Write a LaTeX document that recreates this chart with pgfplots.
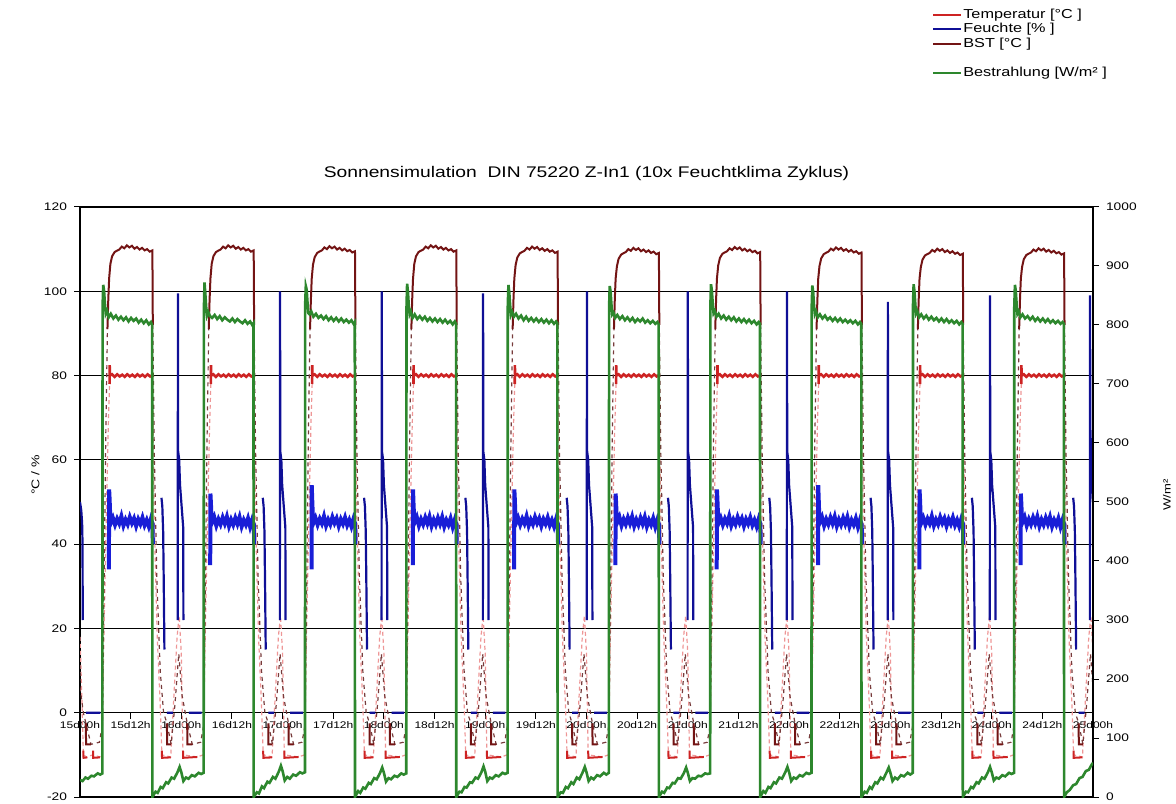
\documentclass[border=0pt]{standalone}
\usepackage{fontspec}
\setmainfont{Liberation Sans}[FakeStretch=1.25]
\usepackage{pgfplots}
\pgfplotsset{compat=1.18}
\definecolor{tempred}{RGB}{205,35,35}
\definecolor{tempfaint}{RGB}{238,150,150}
\definecolor{feuchteblue}{RGB}{25,30,215}
\definecolor{feuchtenavy}{RGB}{15,15,150}
\definecolor{bstbrown}{RGB}{115,20,20}
\definecolor{bstfaint}{RGB}{120,60,60}
\definecolor{bestrgreen}{RGB}{45,135,45}
\tikzset{
  tempst/.style={draw=tempred, line width=1pt},
  tempplat/.style={draw=tempred, line width=1.3pt},
  tempfaintst/.style={draw=tempfaint, line width=0.6pt, dash pattern=on 2pt off 1.5pt},
  feuchtst/.style={draw=feuchtenavy, line width=1.1pt},
  feuchtplat/.style={draw=feuchteblue, line width=2pt},
  bstst/.style={draw=bstbrown, line width=1pt},
  bstfaintst/.style={draw=bstfaint, line width=0.6pt, dash pattern=on 2pt off 2pt},
  bestrst/.style={draw=bestrgreen, line width=1.3pt},
}
\begin{document}
\begin{tikzpicture}
\begin{axis}[
  scale only axis, width=506.5pt, height=295pt,
  xmin=0, xmax=240, ymin=-20, ymax=120,
  axis x line*=middle, axis y line*=left,
  hide obscured x ticks=false, hide obscured y ticks=false,
  axis line style={-, line width=0.6pt, black},
  xtick={0,12,...,240},
  xticklabels={15d00h,15d12h,16d00h,16d12h,17d00h,17d12h,18d00h,18d12h,19d00h,19d12h,20d00h,20d12h,21d00h,21d12h,22d00h,22d12h,23d00h,23d12h,24d00h,24d12h,25d00h},
  ytick={-20,0,20,40,60,80,100,120},
  ymajorgrids, major grid style={black, line width=0.6pt},
  tick align=outside, major tick length=3pt, tick style={black, line width=0.5pt},
  /pgf/number format/assume math mode=true,
  yticklabel style={font=\fontsize{5.5}{6}\selectfont},
  xticklabel style={font=\fontsize{4.8}{5}\selectfont, inner sep=1pt},
  ylabel={°C / \%},
  ylabel style={at={(axis description cs:-0.044,0.546)}, anchor=center, font=\fontsize{5.6}{6}\selectfont},
  title={Sonnensimulation\ \ DIN 75220 Z-In1 (10x Feuchtklima Zyklus)},
  title style={at={(axis description cs:0.5,1)}, anchor=base, yshift=8.5pt, font=\fontsize{7.7}{8}\selectfont},
  unbounded coords=jump,
]
\draw[black, line width=0.6pt] (rel axis cs:0,0) -- (rel axis cs:1,0);
\draw[black, line width=0.6pt] (rel axis cs:0,1) -- (rel axis cs:1,1);
% Temperatur faint transitions
\addplot[tempfaintst] coordinates {
(0,18)(0.4,5)(0.8,-10)(1.7,-10.6)(2.4,-10.2)(3.1,-10)(4.7,-10.5)(5.2,-10)(5.6,15)(6.2,45)(6.7,68)(7,78)(7.05,nan)
(17.2,80)(17.6,45)(18.3,18)(19,2)(19.4,-10)(21.5,-10.5)(22.3,5)(23,18)(23.5,23)(24,14)(24.4,-10)(27.8,-10.5)(29.2,-10)(29.6,15)(30.2,45)(30.7,68)(31,78)(31.05,nan)
(41.2,80)(41.6,45)(42.3,18)(43,2)(43.4,-10)(45.5,-10.5)(46.3,5)(47,18)(47.5,23)(48,14)(48.4,-10)(51.8,-10.5)(53.2,-10)(53.6,15)(54.2,45)(54.7,68)(55,78)(55.05,nan)
(65.2,80)(65.6,45)(66.3,18)(67,2)(67.4,-10)(69.5,-10.5)(70.3,5)(71,18)(71.5,23)(72,14)(72.4,-10)(75.8,-10.5)(77.2,-10)(77.6,15)(78.2,45)(78.7,68)(79,78)(79.05,nan)
(89.2,80)(89.6,45)(90.3,18)(91,2)(91.4,-10)(93.5,-10.5)(94.3,5)(95,18)(95.5,23)(96,14)(96.4,-10)(99.8,-10.5)(101.2,-10)(101.6,15)(102.2,45)(102.7,68)(103,78)(103.05,nan)
(113.2,80)(113.6,45)(114.3,18)(115,2)(115.4,-10)(117.5,-10.5)(118.3,5)(119,18)(119.5,23)(120,14)(120.4,-10)(123.8,-10.5)(125.2,-10)(125.6,15)(126.2,45)(126.7,68)(127,78)(127.05,nan)
(137.2,80)(137.6,45)(138.3,18)(139,2)(139.4,-10)(141.5,-10.5)(142.3,5)(143,18)(143.5,23)(144,14)(144.4,-10)(147.8,-10.5)(149.2,-10)(149.6,15)(150.2,45)(150.7,68)(151,78)(151.05,nan)
(161.2,80)(161.6,45)(162.3,18)(163,2)(163.4,-10)(165.5,-10.5)(166.3,5)(167,18)(167.5,23)(168,14)(168.4,-10)(171.8,-10.5)(173.2,-10)(173.6,15)(174.2,45)(174.7,68)(175,78)(175.05,nan)
(185.2,80)(185.6,45)(186.3,18)(187,2)(187.4,-10)(189.5,-10.5)(190.3,5)(191,18)(191.5,23)(192,14)(192.4,-10)(195.8,-10.5)(197.2,-10)(197.6,15)(198.2,45)(198.7,68)(199,78)(199.05,nan)
(209.2,80)(209.6,45)(210.3,18)(211,2)(211.4,-10)(213.5,-10.5)(214.3,5)(215,18)(215.5,23)(216,14)(216.4,-10)(219.8,-10.5)(221.2,-10)(221.6,15)(222.2,45)(222.7,68)(223,78)(223.05,nan)
(233.2,80)(233.6,45)(234.3,18)(235,2)(235.4,-10)(237.5,-10.5)(238.3,5)(239,18)(239.5,23)(240,14)
};
% BST faint transitions
\addplot[bstfaintst] coordinates {
(0,6)(0.8,0)(1.4,-2.5)(2.6,-7.5)(4.6,-7)(5.3,-3)(5.7,30)(6.1,65)(6.5,91)(6.55,nan)
(17.25,92)(17.6,62)(18.2,32)(19,10)(19.8,0)(20.6,-2.5)(21.6,-7.5)(22.5,2)(23.4,14)(24.2,4)(25.4,-2.5)(26.6,-7.5)(28.6,-7)(29.3,-3)(29.7,30)(30.1,65)(30.5,91)(30.55,nan)
(41.25,92)(41.6,62)(42.2,32)(43,10)(43.8,0)(44.6,-2.5)(45.6,-7.5)(46.5,2)(47.4,14)(48.2,4)(49.4,-2.5)(50.6,-7.5)(52.6,-7)(53.3,-3)(53.7,30)(54.1,65)(54.5,91)(54.55,nan)
(65.25,92)(65.6,62)(66.2,32)(67,10)(67.8,0)(68.6,-2.5)(69.6,-7.5)(70.5,2)(71.4,14)(72.2,4)(73.4,-2.5)(74.6,-7.5)(76.6,-7)(77.3,-3)(77.7,30)(78.1,65)(78.5,91)(78.55,nan)
(89.25,92)(89.6,62)(90.2,32)(91,10)(91.8,0)(92.6,-2.5)(93.6,-7.5)(94.5,2)(95.4,14)(96.2,4)(97.4,-2.5)(98.6,-7.5)(100.6,-7)(101.3,-3)(101.7,30)(102.1,65)(102.5,91)(102.55,nan)
(113.25,92)(113.6,62)(114.2,32)(115,10)(115.8,0)(116.6,-2.5)(117.6,-7.5)(118.5,2)(119.4,14)(120.2,4)(121.4,-2.5)(122.6,-7.5)(124.6,-7)(125.3,-3)(125.7,30)(126.1,65)(126.5,91)(126.55,nan)
(137.25,92)(137.6,62)(138.2,32)(139,10)(139.8,0)(140.6,-2.5)(141.6,-7.5)(142.5,2)(143.4,14)(144.2,4)(145.4,-2.5)(146.6,-7.5)(148.6,-7)(149.3,-3)(149.7,30)(150.1,65)(150.5,91)(150.55,nan)
(161.25,92)(161.6,62)(162.2,32)(163,10)(163.8,0)(164.6,-2.5)(165.6,-7.5)(166.5,2)(167.4,14)(168.2,4)(169.4,-2.5)(170.6,-7.5)(172.6,-7)(173.3,-3)(173.7,30)(174.1,65)(174.5,91)(174.55,nan)
(185.25,92)(185.6,62)(186.2,32)(187,10)(187.8,0)(188.6,-2.5)(189.6,-7.5)(190.5,2)(191.4,14)(192.2,4)(193.4,-2.5)(194.6,-7.5)(196.6,-7)(197.3,-3)(197.7,30)(198.1,65)(198.5,91)(198.55,nan)
(209.25,92)(209.6,62)(210.2,32)(211,10)(211.8,0)(212.6,-2.5)(213.6,-7.5)(214.5,2)(215.4,14)(216.2,4)(217.4,-2.5)(218.6,-7.5)(220.6,-7)(221.3,-3)(221.7,30)(222.1,65)(222.5,91)(222.55,nan)
(233.25,92)(233.6,62)(234.2,32)(235,10)(235.8,0)(236.6,-2.5)(237.6,-7.5)(238.5,2)(239.4,14)(240,6)
};
% Temperatur night segments
\addplot[tempst] coordinates {
(0.8,-9)(0.83,-10.7)(1.7,-10.6)(1.75,nan)(3.1,-9)(3.13,-10.7)(4.7,-10.6)(4.75,nan)
(19.4,-9)(19.43,-10.7)(21.5,-10.6)(21.55,nan)(24.4,-9)(24.43,-10.7)(27.8,-10.5)(27.85,nan)
(43.4,-9)(43.43,-10.7)(45.5,-10.6)(45.55,nan)(48.4,-9)(48.43,-10.7)(51.8,-10.5)(51.85,nan)
(67.4,-9)(67.43,-10.7)(69.5,-10.6)(69.55,nan)(72.4,-9)(72.43,-10.7)(75.8,-10.5)(75.85,nan)
(91.4,-9)(91.43,-10.7)(93.5,-10.6)(93.55,nan)(96.4,-9)(96.43,-10.7)(99.8,-10.5)(99.85,nan)
(115.4,-9)(115.43,-10.7)(117.5,-10.6)(117.55,nan)(120.4,-9)(120.43,-10.7)(123.8,-10.5)(123.85,nan)
(139.4,-9)(139.43,-10.7)(141.5,-10.6)(141.55,nan)(144.4,-9)(144.43,-10.7)(147.8,-10.5)(147.85,nan)
(163.4,-9)(163.43,-10.7)(165.5,-10.6)(165.55,nan)(168.4,-9)(168.43,-10.7)(171.8,-10.5)(171.85,nan)
(187.4,-9)(187.43,-10.7)(189.5,-10.6)(189.55,nan)(192.4,-9)(192.43,-10.7)(195.8,-10.5)(195.85,nan)
(211.4,-9)(211.43,-10.7)(213.5,-10.6)(213.55,nan)(216.4,-9)(216.43,-10.7)(219.8,-10.5)(219.85,nan)
(235.4,-9)(235.43,-10.7)(237.5,-10.6)
};
% Temperatur plateaus
\addplot[tempplat] coordinates {
(7,78)(7.03,82.5)(7.08,80)(7.6,80.3)(8.2,79.7)(8.8,80.3)(9.4,79.8)(10,80.2)(10.6,79.7)(11.2,80.3)(11.8,79.8)(12.4,80.2)(13,79.7)(13.6,80.3)(14.2,79.8)(14.8,80.2)(15.4,79.7)(16,80.3)(16.6,79.8)(17.2,80.1)(17.25,nan)
(31,78)(31.03,82.5)(31.08,80)(31.6,80.3)(32.2,79.7)(32.8,80.3)(33.4,79.8)(34,80.2)(34.6,79.7)(35.2,80.3)(35.8,79.8)(36.4,80.2)(37,79.7)(37.6,80.3)(38.2,79.8)(38.8,80.2)(39.4,79.7)(40,80.3)(40.6,79.8)(41.2,80.1)(41.25,nan)
(55,78)(55.03,82.5)(55.08,80)(55.6,80.3)(56.2,79.7)(56.8,80.3)(57.4,79.8)(58,80.2)(58.6,79.7)(59.2,80.3)(59.8,79.8)(60.4,80.2)(61,79.7)(61.6,80.3)(62.2,79.8)(62.8,80.2)(63.4,79.7)(64,80.3)(64.6,79.8)(65.2,80.1)(65.25,nan)
(79,78)(79.03,82.5)(79.08,80)(79.6,80.3)(80.2,79.7)(80.8,80.3)(81.4,79.8)(82,80.2)(82.6,79.7)(83.2,80.3)(83.8,79.8)(84.4,80.2)(85,79.7)(85.6,80.3)(86.2,79.8)(86.8,80.2)(87.4,79.7)(88,80.3)(88.6,79.8)(89.2,80.1)(89.25,nan)
(103,78)(103.03,82.5)(103.08,80)(103.6,80.3)(104.2,79.7)(104.8,80.3)(105.4,79.8)(106,80.2)(106.6,79.7)(107.2,80.3)(107.8,79.8)(108.4,80.2)(109,79.7)(109.6,80.3)(110.2,79.8)(110.8,80.2)(111.4,79.7)(112,80.3)(112.6,79.8)(113.2,80.1)(113.25,nan)
(127,78)(127.03,82.5)(127.08,80)(127.6,80.3)(128.2,79.7)(128.8,80.3)(129.4,79.8)(130,80.2)(130.6,79.7)(131.2,80.3)(131.8,79.8)(132.4,80.2)(133,79.7)(133.6,80.3)(134.2,79.8)(134.8,80.2)(135.4,79.7)(136,80.3)(136.6,79.8)(137.2,80.1)(137.25,nan)
(151,78)(151.03,82.5)(151.08,80)(151.6,80.3)(152.2,79.7)(152.8,80.3)(153.4,79.8)(154,80.2)(154.6,79.7)(155.2,80.3)(155.8,79.8)(156.4,80.2)(157,79.7)(157.6,80.3)(158.2,79.8)(158.8,80.2)(159.4,79.7)(160,80.3)(160.6,79.8)(161.2,80.1)(161.25,nan)
(175,78)(175.03,82.5)(175.08,80)(175.6,80.3)(176.2,79.7)(176.8,80.3)(177.4,79.8)(178,80.2)(178.6,79.7)(179.2,80.3)(179.8,79.8)(180.4,80.2)(181,79.7)(181.6,80.3)(182.2,79.8)(182.8,80.2)(183.4,79.7)(184,80.3)(184.6,79.8)(185.2,80.1)(185.25,nan)
(199,78)(199.03,82.5)(199.08,80)(199.6,80.3)(200.2,79.7)(200.8,80.3)(201.4,79.8)(202,80.2)(202.6,79.7)(203.2,80.3)(203.8,79.8)(204.4,80.2)(205,79.7)(205.6,80.3)(206.2,79.8)(206.8,80.2)(207.4,79.7)(208,80.3)(208.6,79.8)(209.2,80.1)(209.25,nan)
(223,78)(223.03,82.5)(223.08,80)(223.6,80.3)(224.2,79.7)(224.8,80.3)(225.4,79.8)(226,80.2)(226.6,79.7)(227.2,80.3)(227.8,79.8)(228.4,80.2)(229,79.7)(229.6,80.3)(230.2,79.8)(230.8,80.2)(231.4,79.7)(232,80.3)(232.6,79.8)(233.2,80.1)
};
% Feuchte plateaus
\addplot[feuchtplat] coordinates {
(6.85,34)(6.9,53)(7,51)(7.15,47)(7.3,45)(7.8,46.2)(8.3,44.6)(8.8,46)(9.3,44.9)(9.8,46.6)(10.3,44.4)(10.8,45.8)(11.3,44.7)(11.8,46.4)(12.3,45)(12.8,46.1)(13.3,44.3)(13.8,45.9)(14.3,44.8)(14.8,46.3)(15.3,44.5)(15.8,45.7)(16.3,44.2)(16.8,46)(17.2,44.8)(17.25,40)(17.3,nan)
(30.85,35)(30.9,52)(31,50)(31.15,46.5)(31.3,45.2)(31.8,46.4)(32.3,44.4)(32.8,45.9)(33.3,44.7)(33.8,46.3)(34.3,44.9)(34.8,46.5)(35.3,44.3)(35.8,45.8)(36.3,44.6)(36.8,46.2)(37.3,44.8)(37.8,46.4)(38.3,44.2)(38.8,45.7)(39.3,44.6)(39.8,46.1)(40.3,44.1)(40.8,45.8)(41.2,44.6)(41.25,40)(41.3,nan)
(54.85,34)(54.9,54)(55,51)(55.15,47)(55.3,45)(55.8,46.2)(56.3,44.6)(56.8,46)(57.3,44.9)(57.8,46.6)(58.3,44.4)(58.8,45.8)(59.3,44.7)(59.8,46.4)(60.3,45)(60.8,46.1)(61.3,44.3)(61.8,45.9)(62.3,44.8)(62.8,46.3)(63.3,44.5)(63.8,45.7)(64.3,44.2)(64.8,46)(65.2,44.8)(65.25,40)(65.3,nan)
(78.85,35)(78.9,53)(79,50)(79.15,46.5)(79.3,45.2)(79.8,46.4)(80.3,44.4)(80.8,45.9)(81.3,44.7)(81.8,46.3)(82.3,44.9)(82.8,46.5)(83.3,44.3)(83.8,45.8)(84.3,44.6)(84.8,46.2)(85.3,44.8)(85.8,46.4)(86.3,44.2)(86.8,45.7)(87.3,44.6)(87.8,46.1)(88.3,44.1)(88.8,45.8)(89.2,44.6)(89.25,40)(89.3,nan)
(102.85,34)(102.9,53)(103,51)(103.15,47)(103.3,45)(103.8,46.2)(104.3,44.6)(104.8,46)(105.3,44.9)(105.8,46.6)(106.3,44.4)(106.8,45.8)(107.3,44.7)(107.8,46.4)(108.3,45)(108.8,46.1)(109.3,44.3)(109.8,45.9)(110.3,44.8)(110.8,46.3)(111.3,44.5)(111.8,45.7)(112.3,44.2)(112.8,46)(113.2,44.8)(113.25,40)(113.3,nan)
(126.85,35)(126.9,52)(127,50)(127.15,46.5)(127.3,45.2)(127.8,46.4)(128.3,44.4)(128.8,45.9)(129.3,44.7)(129.8,46.3)(130.3,44.9)(130.8,46.5)(131.3,44.3)(131.8,45.8)(132.3,44.6)(132.8,46.2)(133.3,44.8)(133.8,46.4)(134.3,44.2)(134.8,45.7)(135.3,44.6)(135.8,46.1)(136.3,44.1)(136.8,45.8)(137.2,44.6)(137.25,40)(137.3,nan)
(150.85,34)(150.9,53)(151,51)(151.15,47)(151.3,45)(151.8,46.2)(152.3,44.6)(152.8,46)(153.3,44.9)(153.8,46.6)(154.3,44.4)(154.8,45.8)(155.3,44.7)(155.8,46.4)(156.3,45)(156.8,46.1)(157.3,44.3)(157.8,45.9)(158.3,44.8)(158.8,46.3)(159.3,44.5)(159.8,45.7)(160.3,44.2)(160.8,46)(161.2,44.8)(161.25,40)(161.3,nan)
(174.85,35)(174.9,54)(175,51)(175.15,46.5)(175.3,45.2)(175.8,46.4)(176.3,44.4)(176.8,45.9)(177.3,44.7)(177.8,46.3)(178.3,44.9)(178.8,46.5)(179.3,44.3)(179.8,45.8)(180.3,44.6)(180.8,46.2)(181.3,44.8)(181.8,46.4)(182.3,44.2)(182.8,45.7)(183.3,44.6)(183.8,46.1)(184.3,44.1)(184.8,45.8)(185.2,44.6)(185.25,40)(185.3,nan)
(198.85,34)(198.9,53)(199,51)(199.15,47)(199.3,45)(199.8,46.2)(200.3,44.6)(200.8,46)(201.3,44.9)(201.8,46.6)(202.3,44.4)(202.8,45.8)(203.3,44.7)(203.8,46.4)(204.3,45)(204.8,46.1)(205.3,44.3)(205.8,45.9)(206.3,44.8)(206.8,46.3)(207.3,44.5)(207.8,45.7)(208.3,44.2)(208.8,46)(209.2,44.8)(209.25,40)(209.3,nan)
(222.85,35)(222.9,52)(223,50)(223.15,46.5)(223.3,45.2)(223.8,46.4)(224.3,44.4)(224.8,45.9)(225.3,44.7)(225.8,46.3)(226.3,44.9)(226.8,46.5)(227.3,44.3)(227.8,45.8)(228.3,44.6)(228.8,46.2)(229.3,44.8)(229.8,46.4)(230.3,44.2)(230.8,45.7)(231.3,44.6)(231.8,46.1)(232.3,44.1)(232.8,45.8)(233.2,44.6)(233.25,40)
};
% Feuchte night
\addplot[feuchtst] coordinates {
(0,50)(0.3,48)(0.5,45)(0.6,40)(0.65,22)(0.7,nan)(1.4,0)(4.8,0)(4.9,nan)
(19.3,51)(19.5,49)(19.7,43)(19.85,30)(20,15)(20.1,nan)(20.6,0)(22,0)(22.1,nan)(23.15,22)(23.2,99.5)(23.25,62)(23.5,60)(23.7,54)(24,50)(24.3,46)(24.45,44)(24.5,22)(24.55,nan)(25.8,0)(28.8,0)(28.9,nan)
(43.3,51)(43.5,49)(43.7,43)(43.85,30)(44,15)(44.1,nan)(44.6,0)(46,0)(46.1,nan)(47.35,22)(47.4,100)(47.45,62)(47.7,60)(47.9,54)(48.2,50)(48.5,46)(48.65,44)(48.7,22)(48.75,nan)(49.8,0)(52.8,0)(52.9,nan)
(67.3,51)(67.5,49)(67.7,43)(67.85,30)(68,15)(68.1,nan)(68.6,0)(70,0)(70.1,nan)(71.45,22)(71.5,100)(71.55,62)(71.8,60)(72,54)(72.3,50)(72.6,46)(72.75,44)(72.8,22)(72.85,nan)(73.8,0)(76.8,0)(76.9,nan)
(91.3,51)(91.5,49)(91.7,43)(91.85,30)(92,15)(92.1,nan)(92.6,0)(94,0)(94.1,nan)(95.45,22)(95.5,99.5)(95.55,62)(95.8,60)(96,54)(96.3,50)(96.6,46)(96.75,44)(96.8,22)(96.85,nan)(97.8,0)(100.8,0)(100.9,nan)
(115.3,51)(115.5,49)(115.7,43)(115.85,30)(116,15)(116.1,nan)(116.6,0)(118,0)(118.1,nan)(120.05,22)(120.1,100)(120.15,62)(120.4,60)(120.6,54)(120.9,50)(121.2,46)(121.35,44)(121.4,22)(121.45,nan)(121.8,0)(124.8,0)(124.9,nan)
(139.3,51)(139.5,49)(139.7,43)(139.85,30)(140,15)(140.1,nan)(140.6,0)(142,0)(142.1,nan)(143.95,22)(144,100)(144.05,62)(144.3,60)(144.5,54)(144.8,50)(145.1,46)(145.25,44)(145.3,22)(145.35,nan)(145.8,0)(148.8,0)(148.9,nan)
(163.3,51)(163.5,49)(163.7,43)(163.85,30)(164,15)(164.1,nan)(164.6,0)(166,0)(166.1,nan)(167.45,22)(167.5,100)(167.55,62)(167.8,60)(168,54)(168.3,50)(168.6,46)(168.75,44)(168.8,22)(168.85,nan)(169.8,0)(172.8,0)(172.9,nan)
(187.3,51)(187.5,49)(187.7,43)(187.85,30)(188,15)(188.1,nan)(188.6,0)(190,0)(190.1,nan)(191.35,22)(191.4,97.5)(191.45,62)(191.7,60)(191.9,54)(192.2,50)(192.5,46)(192.65,44)(192.7,22)(192.75,nan)(193.8,0)(196.8,0)(196.9,nan)
(211.3,51)(211.5,49)(211.7,43)(211.85,30)(212,15)(212.1,nan)(212.6,0)(214,0)(214.1,nan)(215.55,22)(215.6,99)(215.65,62)(215.9,60)(216.1,54)(216.4,50)(216.7,46)(216.85,44)(216.9,22)(216.95,nan)(217.8,0)(220.8,0)(220.9,nan)
(235.3,51)(235.5,49)(235.7,43)(235.85,30)(236,15)(236.1,nan)(236.6,0)(238,0)(238.1,nan)(239.25,22)(239.3,99)(239.35,68)(239.6,60)(239.8,54)(240,50)
};
% BST solid
\addplot[bstst] coordinates {
(1.4,-2.5)(1.43,-7.5)(2.6,-7.5)(2.65,nan)
(6.5,91)(6.7,98)(6.9,103)(7.2,106.5)(7.6,108.3)(8.2,109.3)(8.7,109.6)(9.3,109.9)(9.9,110.6)(10.5,110.2)(11.1,110.9)(11.7,110.4)(12.3,110.8)(12.9,110.1)(13.5,110.5)(14.1,109.9)(14.7,110.3)(15.3,109.7)(15.9,110)(16.5,109.4)(17.15,109.7)(17.25,92)(17.3,nan)
(20.6,-2.5)(20.63,-7.5)(21.6,-7.5)(21.65,nan)(25.4,-2.5)(25.43,-7.5)(26.6,-7.5)(26.65,nan)
(30.5,91)(30.7,98)(30.9,103)(31.2,106.5)(31.6,108.3)(32.2,109.3)(32.7,109.6)(33.3,109.9)(33.9,110.6)(34.5,110.2)(35.1,110.9)(35.7,110.4)(36.3,110.8)(36.9,110.1)(37.5,110.5)(38.1,109.9)(38.7,110.3)(39.3,109.7)(39.9,110)(40.5,109.4)(41.15,109.7)(41.25,92)(41.3,nan)
(44.6,-2.5)(44.63,-7.5)(45.6,-7.5)(45.65,nan)(49.4,-2.5)(49.43,-7.5)(50.6,-7.5)(50.65,nan)
(54.5,91)(54.7,98)(54.9,103)(55.2,106.3)(55.6,108.1)(56.2,109.1)(56.7,109.4)(57.3,109.7)(57.9,110.4)(58.5,110)(59.1,110.7)(59.7,110.2)(60.3,110.6)(60.9,109.9)(61.5,110.3)(62.1,109.7)(62.7,110.1)(63.3,109.5)(63.9,109.8)(64.5,109.2)(65.15,109.5)(65.25,92)(65.3,nan)
(68.6,-2.5)(68.63,-7.5)(69.6,-7.5)(69.65,nan)(73.4,-2.5)(73.43,-7.5)(74.6,-7.5)(74.65,nan)
(78.5,91)(78.7,98)(78.9,103)(79.2,106.5)(79.6,108.3)(80.2,109.3)(80.7,109.6)(81.3,109.9)(81.9,110.6)(82.5,110.2)(83.1,110.9)(83.7,110.4)(84.3,110.8)(84.9,110.1)(85.5,110.5)(86.1,109.9)(86.7,110.3)(87.3,109.7)(87.9,110)(88.5,109.4)(89.15,109.7)(89.25,92)(89.3,nan)
(92.6,-2.5)(92.63,-7.5)(93.6,-7.5)(93.65,nan)(97.4,-2.5)(97.43,-7.5)(98.6,-7.5)(98.65,nan)
(102.5,91)(102.7,98)(102.9,103)(103.2,106.2)(103.6,108)(104.2,109)(104.7,109.3)(105.3,109.6)(105.9,110.3)(106.5,109.9)(107.1,110.6)(107.7,110.1)(108.3,110.5)(108.9,109.8)(109.5,110.2)(110.1,109.6)(110.7,110)(111.3,109.4)(111.9,109.7)(112.5,109.1)(113.15,109.4)(113.25,92)(113.3,nan)
(116.6,-2.5)(116.63,-7.5)(117.6,-7.5)(117.65,nan)(121.4,-2.5)(121.43,-7.5)(122.6,-7.5)(122.65,nan)
(126.5,91)(126.7,98)(126.9,103)(127.2,105.9)(127.6,107.7)(128.2,108.7)(128.7,109)(129.3,109.3)(129.9,110)(130.5,109.6)(131.1,110.3)(131.7,109.8)(132.3,110.2)(132.9,109.5)(133.5,109.9)(134.1,109.3)(134.7,109.7)(135.3,109.1)(135.9,109.4)(136.5,108.8)(137.15,109.1)(137.25,92)(137.3,nan)
(140.6,-2.5)(140.63,-7.5)(141.6,-7.5)(141.65,nan)(145.4,-2.5)(145.43,-7.5)(146.6,-7.5)(146.65,nan)
(150.5,91)(150.7,98)(150.9,103)(151.2,106.1)(151.6,107.9)(152.2,108.9)(152.7,109.2)(153.3,109.5)(153.9,110.2)(154.5,109.8)(155.1,110.5)(155.7,110)(156.3,110.4)(156.9,109.7)(157.5,110.1)(158.1,109.5)(158.7,109.9)(159.3,109.3)(159.9,109.6)(160.5,109)(161.15,109.3)(161.25,92)(161.3,nan)
(164.6,-2.5)(164.63,-7.5)(165.6,-7.5)(165.65,nan)(169.4,-2.5)(169.43,-7.5)(170.6,-7.5)(170.65,nan)
(174.5,91)(174.7,98)(174.9,103)(175.2,106)(175.6,107.8)(176.2,108.8)(176.7,109.1)(177.3,109.4)(177.9,110.1)(178.5,109.7)(179.1,110.4)(179.7,109.9)(180.3,110.3)(180.9,109.6)(181.5,110)(182.1,109.4)(182.7,109.8)(183.3,109.2)(183.9,109.5)(184.5,108.9)(185.15,109.2)(185.25,92)(185.3,nan)
(188.6,-2.5)(188.63,-7.5)(189.6,-7.5)(189.65,nan)(193.4,-2.5)(193.43,-7.5)(194.6,-7.5)(194.65,nan)
(198.5,91)(198.7,98)(198.9,103)(199.2,105.7)(199.6,107.5)(200.2,108.5)(200.7,108.8)(201.3,109.1)(201.9,109.8)(202.5,109.4)(203.1,110.1)(203.7,109.6)(204.3,110)(204.9,109.3)(205.5,109.7)(206.1,109.1)(206.7,109.5)(207.3,108.9)(207.9,109.2)(208.5,108.6)(209.15,108.9)(209.25,92)(209.3,nan)
(212.6,-2.5)(212.63,-7.5)(213.6,-7.5)(213.65,nan)(217.4,-2.5)(217.43,-7.5)(218.6,-7.5)(218.65,nan)
(222.5,91)(222.7,98)(222.9,103)(223.2,105.8)(223.6,107.6)(224.2,108.6)(224.7,108.9)(225.3,109.2)(225.9,109.9)(226.5,109.5)(227.1,110.2)(227.7,109.7)(228.3,110.1)(228.9,109.4)(229.5,109.8)(230.1,109.2)(230.7,109.6)(231.3,109)(231.9,109.3)(232.5,108.7)(233.15,109)(233.25,92)(233.3,nan)
(236.6,-2.5)(236.63,-7.5)(237.6,-7.5)
};
\end{axis}
\begin{axis}[
  scale only axis, width=506.5pt, height=295pt,
  xmin=0, xmax=240, ymin=0, ymax=1000,
  axis x line=none, axis y line*=right,
  axis line style={-, line width=0.6pt, black},
  ytick={0,100,...,1000},
  tick align=outside, major tick length=3pt, tick style={black, line width=0.5pt},
  /pgf/number format/assume math mode=true, /pgf/number format/1000 sep={},
  yticklabel style={font=\fontsize{5.5}{6}\selectfont},
  ylabel={W/m²},
  ylabel style={at={(axis description cs:1.073,0.512)}, anchor=center, font=\fontsize{5.2}{6}\selectfont},
  legend style={at={(axis description cs:0.841,1.339)}, anchor=north west, draw=none, fill=none,
    font=\fontsize{6.5}{7}\selectfont, row sep=0pt, column sep=0pt, inner sep=0pt,
    nodes={inner sep=0.5pt, text height=4.9pt, text depth=1.4pt}},
  legend cell align=left,
  legend image code/.code={\draw[#1, line width=1pt] (0pt,0pt) -- (14pt,0pt);},
]
\addlegendimage{tempst}\addlegendentry{Temperatur [°C ]}
\addlegendimage{feuchtst}\addlegendentry{Feuchte [\% ]}
\addlegendimage{bstst}\addlegendentry{BST [°C ]}
\addlegendimage{empty legend}\addlegendentry{}
\addplot[bestrst] coordinates {
(0,29)(0.6,27)(1.3,33)(1.9,31)(2.7,36)(3.3,35)(4.2,40)(4.8,38)(5.3,40)
(5.35,830)(5.5,868)(5.7,858)(5.9,836)(6.1,819)(6.4,824)(6.8,813)(7.3,819)(7.9,811)(8.5,816)(9.1,809)(9.7,814)(10.3,808)(10.9,813)(11.5,806)(12.1,812)(12.7,807)(13.3,811)(13.9,804)(14.5,809)(15.1,803)(15.7,808)(16.3,801)(16.8,805)(17.1,800)(17.15,0)
(17.9,9)(18.4,7)(19.1,17)(19.6,15)(20.4,25)(20.9,23)(21.7,33)(22.3,31)(23.1,42)(23.6,51)(24,42)(24.5,27)(25.1,33)(25.7,31)(26.5,37)(27.2,35)(28.1,41)(28.7,39)(29.3,41)
(29.35,826)(29.5,872)(29.7,852)(29.9,830)(30.1,816)(30.4,822)(30.8,815)(31.3,812)(31.9,817)(32.5,810)(33.1,815)(33.7,808)(34.3,813)(34.9,809)(35.5,806)(36.1,811)(36.7,805)(37.3,810)(37.9,806)(38.5,803)(39.1,808)(39.7,802)(40.3,806)(40.8,800)(41.1,803)(41.15,0)
(41.9,8)(42.4,6)(43.1,18)(43.6,15)(44.4,26)(44.9,24)(45.7,34)(46.3,31)(47.1,43)(47.6,53)(48,44)(48.5,28)(49.1,34)(49.7,31)(50.5,38)(51.2,36)(52.1,42)(52.7,40)(53.3,42)
(53.35,835)(53.5,866)(53.7,860)(53.9,838)(54.1,820)(54.4,818)(54.8,823)(55.3,814)(55.9,819)(56.5,812)(57.1,816)(57.7,810)(58.3,815)(58.9,808)(59.5,813)(60.1,807)(60.7,812)(61.3,806)(61.9,811)(62.5,805)(63.1,809)(63.7,804)(64.3,808)(64.8,802)(65.1,805)(65.15,0)
(65.9,10)(66.4,7)(67.1,16)(67.6,14)(68.4,24)(68.9,22)(69.7,32)(70.3,30)(71.1,41)(71.6,50)(72,41)(72.5,26)(73.1,32)(73.7,30)(74.5,36)(75.2,34)(76.1,40)(76.7,38)(77.3,40)
(77.35,828)(77.5,870)(77.7,856)(77.9,832)(78.1,818)(78.4,823)(78.8,812)(79.3,818)(79.9,810)(80.5,815)(81.1,809)(81.7,814)(82.3,807)(82.9,812)(83.5,806)(84.1,811)(84.7,805)(85.3,810)(85.9,804)(86.5,809)(87.1,803)(87.7,807)(88.3,801)(88.8,806)(89.1,802)(89.15,0)
(89.9,9)(90.4,8)(91.1,17)(91.6,16)(92.4,25)(92.9,24)(93.7,33)(94.3,31)(95.1,42)(95.6,52)(96,43)(96.5,27)(97.1,33)(97.7,31)(98.5,37)(99.2,35)(100.1,41)(100.7,39)(101.3,41)
(101.35,832)(101.5,868)(101.7,855)(101.9,834)(102.1,817)(102.4,822)(102.8,814)(103.3,819)(103.9,811)(104.5,816)(105.1,808)(105.7,814)(106.3,807)(106.9,812)(107.5,806)(108.1,811)(108.7,805)(109.3,810)(109.9,804)(110.5,809)(111.1,803)(111.7,808)(112.3,802)(112.8,806)(113.1,803)(113.15,0)
(113.9,8)(114.4,7)(115.1,17)(115.6,15)(116.4,25)(116.9,22)(117.7,33)(118.3,30)(119.1,42)(119.6,51)(120,42)(120.5,27)(121.1,33)(121.7,30)(122.5,37)(123.2,35)(124.1,41)(124.7,38)(125.3,41)
(125.35,829)(125.5,866)(125.7,857)(125.9,835)(126.1,818)(126.4,821)(126.8,812)(127.3,817)(127.9,810)(128.5,815)(129.1,808)(129.7,813)(130.3,807)(130.9,812)(131.5,805)(132.1,810)(132.7,806)(133.3,811)(133.9,804)(134.5,808)(135.1,803)(135.7,807)(136.3,802)(136.8,805)(137.1,801)(137.15,0)
(137.9,9)(138.4,7)(139.1,16)(139.6,15)(140.4,24)(140.9,23)(141.7,32)(142.3,31)(143.1,41)(143.6,50)(144,41)(144.5,27)(145.1,32)(145.7,31)(146.5,36)(147.2,35)(148.1,40)(148.7,39)(149.3,40)
(149.35,834)(149.5,869)(149.7,858)(149.9,837)(150.1,820)(150.4,824)(150.8,814)(151.3,819)(151.9,811)(152.5,816)(153.1,809)(153.7,814)(154.3,808)(154.9,813)(155.5,806)(156.1,811)(156.7,805)(157.3,810)(157.9,804)(158.5,809)(159.1,803)(159.7,807)(160.3,801)(160.8,805)(161.1,802)(161.15,0)
(161.9,10)(162.4,7)(163.1,17)(163.6,15)(164.4,25)(164.9,23)(165.7,33)(166.3,31)(167.1,42)(167.6,51)(168,42)(168.5,27)(169.1,33)(169.7,31)(170.5,37)(171.2,35)(172.1,41)(172.7,39)(173.3,41)
(173.35,830)(173.5,867)(173.7,856)(173.9,833)(174.1,818)(174.4,823)(174.8,813)(175.3,818)(175.9,811)(176.5,816)(177.1,809)(177.7,813)(178.3,807)(178.9,812)(179.5,806)(180.1,811)(180.7,805)(181.3,809)(181.9,804)(182.5,808)(183.1,803)(183.7,807)(184.3,801)(184.8,805)(185.1,802)(185.15,0)
(185.9,9)(186.4,7)(187.1,17)(187.6,14)(188.4,25)(188.9,23)(189.7,33)(190.3,30)(191.1,42)(191.6,50)(192,41)(192.5,27)(193.1,33)(193.7,30)(194.5,37)(195.2,35)(196.1,41)(196.7,38)(197.3,41)
(197.35,833)(197.5,869)(197.7,857)(197.9,835)(198.1,819)(198.4,823)(198.8,813)(199.3,818)(199.9,811)(200.5,816)(201.1,809)(201.7,814)(202.3,808)(202.9,812)(203.5,806)(204.1,811)(204.7,805)(205.3,810)(205.9,804)(206.5,808)(207.1,803)(207.7,807)(208.3,801)(208.8,805)(209.1,802)(209.15,0)
(209.9,9)(210.4,8)(211.1,17)(211.6,15)(212.4,25)(212.9,23)(213.7,33)(214.3,31)(215.1,42)(215.6,51)(216,42)(216.5,28)(217.1,33)(217.7,31)(218.5,37)(219.2,35)(220.1,41)(220.7,39)(221.3,41)
(221.35,831)(221.5,868)(221.7,858)(221.9,836)(222.1,819)(222.4,823)(222.8,813)(223.3,818)(223.9,811)(224.5,815)(225.1,809)(225.7,814)(226.3,807)(226.9,812)(227.5,806)(228.1,811)(228.7,805)(229.3,810)(229.9,804)(230.5,808)(231.1,803)(231.7,807)(232.3,802)(232.8,805)(233.1,802)(233.15,0)
(233.8,8)(234.5,12)(235.3,20)(236,22)(236.8,32)(237.5,34)(238.3,44)(239,46)(239.7,55)(240,58)
};
\addlegendentry{Bestrahlung [W/m² ]}
\end{axis}
\pgfresetboundingbox
\path[use as bounding box] ([shift={(-40pt,-3pt)}]current axis.south west) rectangle ([shift={(41.5pt,103.5pt)}]current axis.north east);
\end{tikzpicture}
\end{document}
